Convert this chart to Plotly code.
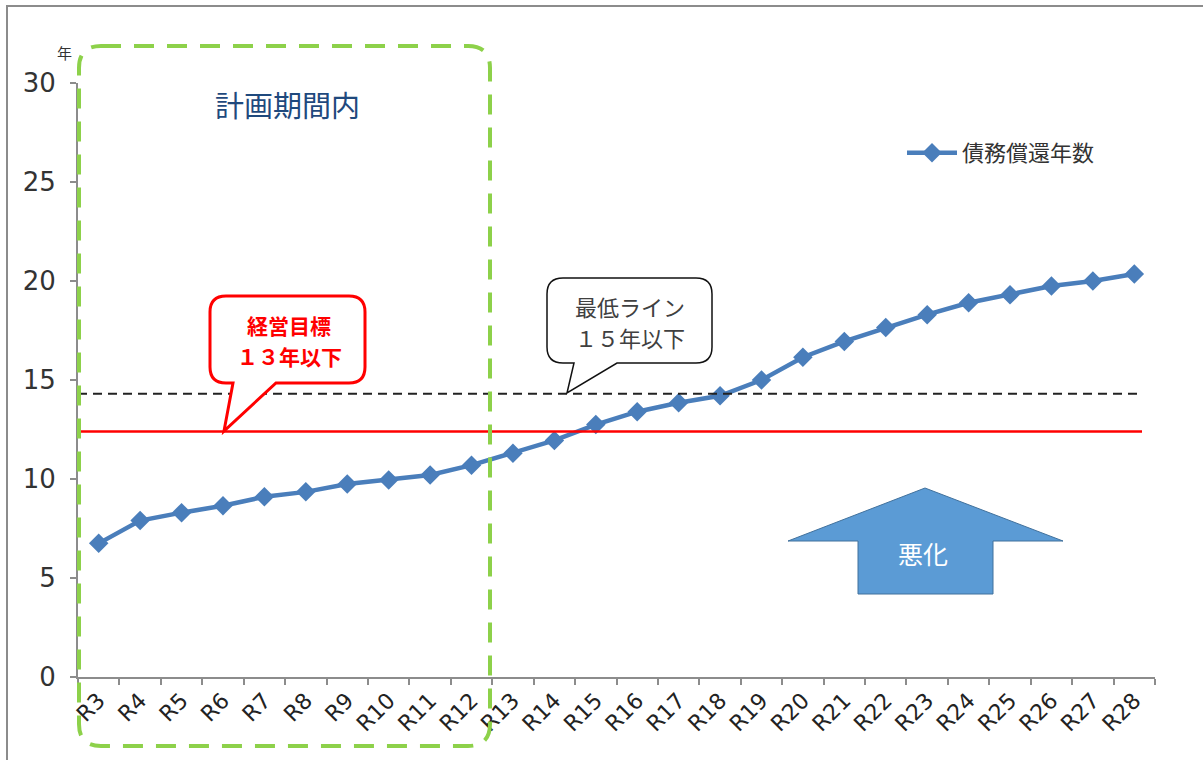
import plotly.graph_objects as go

# ---- data ----
categories = ["R3", "R4", "R5", "R6", "R7", "R8", "R9", "R10", "R11", "R12", "R13", "R14", "R15",
              "R16", "R17", "R18", "R19", "R20", "R21", "R22", "R23", "R24", "R25", "R26", "R27", "R28"]
repayment_years = [6.75, 7.9, 8.3, 8.65, 9.1, 9.35, 9.75, 9.95, 10.2, 10.7, 11.3, 11.95, 12.75,
                   13.4, 13.85, 14.2, 15.0, 16.15, 16.95, 17.65, 18.3, 18.9, 19.3, 19.75, 20.0, 20.35]
series_name = "債務償還年数"
target_line = 12.4      # 経営目標 line
minimum_line = 14.3     # 最低ライン line
y_ticks = [0, 5, 10, 15, 20, 25, 30]

W, H = 1203, 760
L, R, T, B = 78, 48, 83, 83
PW, PH = W - L - R, H - T - B


def px(x):
    return (x - L) / PW


def py(y):
    return (H - B - y) / PH


def rounded_path(pts_box, r, tail=None):
    x0, y0, x1, y1 = pts_box
    rx, ry = r / PW, r / PH
    X0, X1 = px(x0), px(x1)
    Y0, Y1 = py(y0), py(y1)  # Y0 top, Y1 bottom
    p = f"M {X0+rx},{Y0} L {X1-rx},{Y0} Q {X1},{Y0} {X1},{Y0-ry} L {X1},{Y1+ry} Q {X1},{Y1} {X1-rx},{Y1} "
    if tail:
        (bl, tx, ty, br) = tail
        p += f"L {px(br)},{Y1} L {px(tx)},{py(ty)} L {px(bl)},{Y1} "
    p += f"L {X0+rx},{Y1} Q {X0},{Y1} {X0},{Y1+ry} L {X0},{Y0-ry} Q {X0},{Y0} {X0+rx},{Y0} Z"
    return p


FONT = "Noto Sans CJK JP"
TICKFONT = "DejaVu Sans"
fig = go.Figure()

fig.add_trace(go.Scatter(
    x=categories, y=repayment_years, mode="lines+markers", name=series_name,
    line=dict(color="#4A7EBB", width=4.5),
    marker=dict(symbol="diamond", size=15, color="#4A7EBB"),
))

shapes = []
# outer frame
shapes.append(dict(type="rect", xref="paper", yref="paper", x0=px(7), x1=px(1230), y0=py(6), y1=py(790),
                   line=dict(color="#8C8C8C", width=2), fillcolor="rgba(0,0,0,0)", layer="below"))
# reference lines
shapes.append(dict(type="line", xref="paper", yref="y", x0=0, x1=px(1142), y0=minimum_line, y1=minimum_line,
                   line=dict(color="#222222", width=2, dash="9px,6px")))
shapes.append(dict(type="line", xref="paper", yref="y", x0=0, x1=px(1142), y0=target_line, y1=target_line,
                   line=dict(color="#FF0000", width=2.5)))
# green planning-period box
shapes.append(dict(type="path", xref="paper", yref="paper", path=rounded_path((79, 46, 490, 746), 22),
                   line=dict(color="#8DD14A", width=4, dash="20px,13px"), fillcolor="rgba(0,0,0,0)"))
# red callout
shapes.append(dict(type="path", xref="paper", yref="paper",
                   path=rounded_path((210, 296, 365, 383), 16, tail=(233, 224, 431, 276)),
                   line=dict(color="#FF0000", width=3), fillcolor="white"))
# black callout
shapes.append(dict(type="path", xref="paper", yref="paper",
                   path=rounded_path((547, 278, 712, 363), 16, tail=(574, 567, 393, 617)),
                   line=dict(color="#111111", width=1.5), fillcolor="white"))
# arrow (悪化)
arrow_pts = [(925, 488), (1063, 541), (993, 541), (993, 594), (858, 594), (858, 541), (788, 541)]
arrow_path = "M " + " L ".join(f"{px(x)},{py(y)}" for x, y in arrow_pts) + " Z"
shapes.append(dict(type="path", xref="paper", yref="paper", path=arrow_path,
                   line=dict(color="#41719C", width=1), fillcolor="#5B9BD5"))


def label(text, x, y, size, color):
    return dict(text=text, x=px(x), y=py(y), xref="paper", yref="paper", showarrow=False,
                xanchor="center", yanchor="middle", font=dict(size=size, color=color, family=FONT))


annotations = [
    label("年", 64, 52, 15, "#333333"),
    label("計画期間内", 287, 104, 29, "#1F497D"),
    label("<b>経営目標</b>", 289, 325, 21, "#FF0000"),
    label("<b>１３年以下</b>", 289, 356, 21, "#FF0000"),
    label("最低ライン", 630, 306, 22, "#404040"),
    label("１５年以下", 630, 337, 22, "#404040"),
    label("悪化", 923, 553, 25, "white"),
]

fig.update_layout(
    width=W, height=H,
    margin=dict(l=L, r=R, t=T, b=B),
    paper_bgcolor="white", plot_bgcolor="white",
    font=dict(family=FONT, color="#333333"),
    shapes=shapes, annotations=annotations,
    showlegend=True,
    legend=dict(x=px(902), y=py(153), xanchor="left", yanchor="middle", bgcolor="rgba(0,0,0,0)",
                itemwidth=50, font=dict(size=22, color="#333333", family=FONT)),
    xaxis=dict(type="category", showgrid=False, showline=True, linecolor="#8C8C8C", linewidth=2,
               ticks="outside", tickson="boundaries", ticklen=6, tickcolor="#8C8C8C", tickwidth=2,
               tickangle=-45, tickfont=dict(size=22, color="#222222", family=TICKFONT),
               range=[-0.5, len(categories) - 0.5], zeroline=False),
    yaxis=dict(range=[0, 30], tickvals=y_ticks, showgrid=False, showline=True, linecolor="#8C8C8C",
               linewidth=2, ticks="outside", ticklen=6, tickcolor="#8C8C8C", tickwidth=2,
               ticklabelstandoff=9,
               tickfont=dict(size=26, color="#333333", family=TICKFONT), zeroline=False),
)

fig.write_html("out.html", config={"displayModeBar": False})

# remove the browser's default page margin so the figure sits at (0, 0)
with open("out.html", "r", encoding="utf-8") as f:
    html = f.read()
html = html.replace("<head>", "<head><style>html,body{margin:0;padding:0;overflow:hidden;}</style>", 1)
with open("out.html", "w", encoding="utf-8") as f:
    f.write(html)
